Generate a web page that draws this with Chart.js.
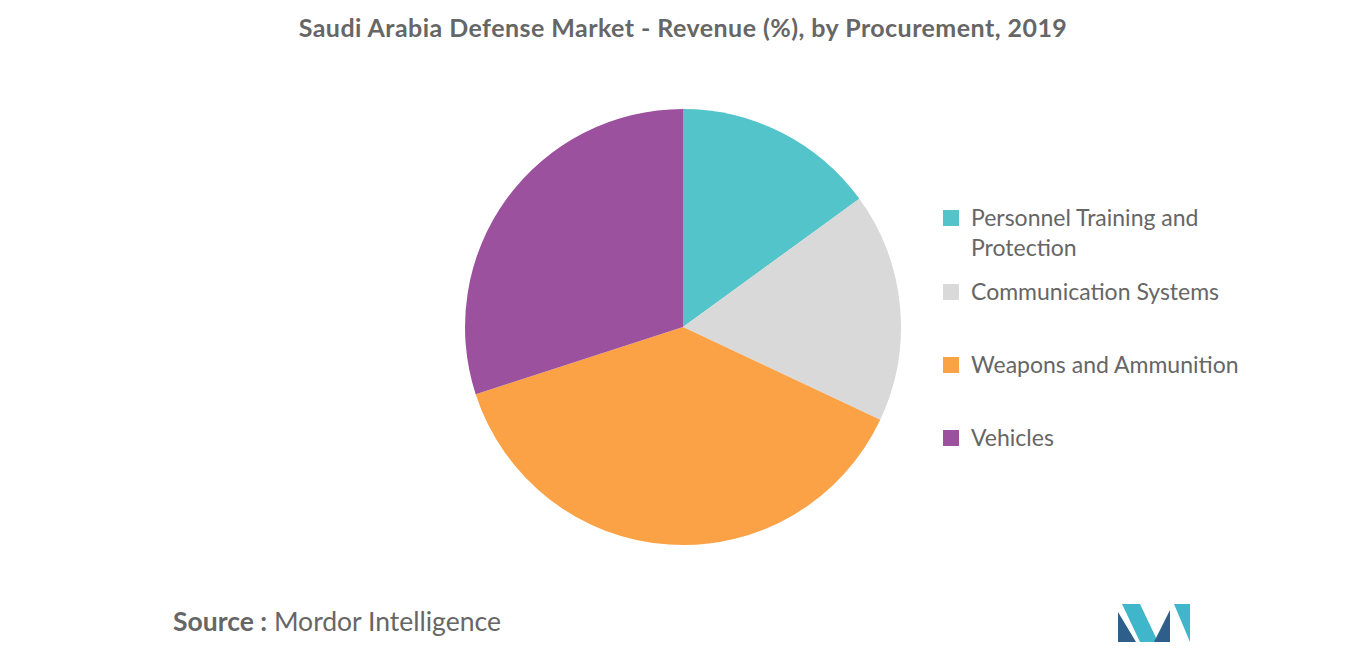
<!DOCTYPE html>
<html><head><meta charset="utf-8">
<script src="https://cdn.jsdelivr.net/npm/chart.js@4"></script>
<style>
body{margin:0;width:1366px;height:655px;background:#fff;font-family:Lato,sans-serif;position:relative;overflow:hidden}
#title{position:absolute;top:12px;left:0;width:1366px;text-align:center;font-size:25px;letter-spacing:0.45px;font-weight:bold;color:#666}
#wrap{position:absolute;left:461px;top:105px;width:444px;height:444px}
.lg{position:absolute;left:943px;font-size:23px;color:#666;line-height:30px}
.lg span{position:absolute;left:0;top:8px;width:16px;height:16px}
.lg div{margin-left:28px}
#src{position:absolute;left:173px;top:605px;font-size:26.5px;color:#666}
</style></head><body>
<div id="title">Saudi Arabia Defense Market - Revenue (%), by Procurement, 2019</div>
<div id="wrap"><canvas id="c"></canvas></div>
<div id="legend"></div>
<div id="src"><b>Source :</b> Mordor Intelligence</div>
<svg style="position:absolute;left:1118px;top:604px" width="74" height="38">
<polygon points="0,38 0,8 18,38" fill="#2e5f8a"/><polygon points="4,0 22,0 40,38 22,38" fill="#3fb6c9"/>
<polygon points="36,38 52,6 52,38" fill="#2e5f8a"/><polygon points="56,0 72,0 72,38" fill="#3fb6c9"/>
</svg>
<script>
const categories=["Personnel Training and Protection","Communication Systems","Weapons and Ammunition","Vehicles"];
const values=[15,17,38,30];
const colors=["#52c4ca","#d9d9d9","#fba146","#9b519e"];
new Chart(document.getElementById('c'),{type:'pie',data:{labels:categories,datasets:[{data:values,backgroundColor:colors,borderWidth:0}]},
options:{responsive:true,maintainAspectRatio:false,animation:false,layout:{padding:4},plugins:{legend:{display:false},tooltip:{enabled:false}}}});
const tops=[202,276,349,422];
const lines=[["Personnel Training and","Protection"],["Communication Systems"],["Weapons and Ammunition"],["Vehicles"]];
const L=document.getElementById('legend');
lines.forEach((l,i)=>{const d=document.createElement('div');d.className='lg';d.style.top=tops[i]+'px';
d.innerHTML='<span style="background:'+colors[i]+'"></span><div>'+l.join('<br>')+'</div>';L.appendChild(d);});
</script>
</body></html>
